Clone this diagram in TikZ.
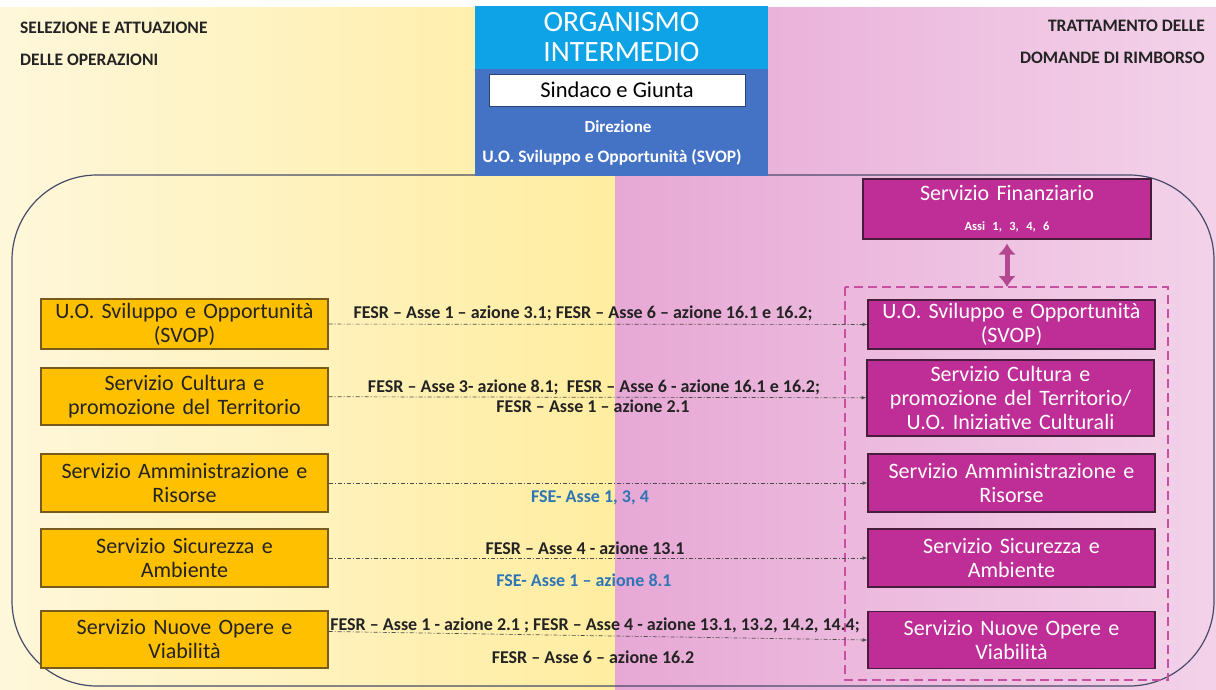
\documentclass[tikz,border=0pt]{standalone}
\usepackage{fontspec}
\setmainfont{Carlito}
\usetikzlibrary{%
  arrows,%
  arrows.meta,%
  calc,%
  positioning%
}
\tikzset{>=latex}
\definecolor{cream}{RGB}{254,247,218}
\definecolor{sunny}{RGB}{255,237,160}
\definecolor{rose}{RGB}{231,168,213}
\definecolor{blush}{RGB}{243,210,233}
\definecolor{orgcyan}{RGB}{14,163,230}
\definecolor{orgblue}{RGB}{68,114,196}
\definecolor{amber}{RGB}{255,192,0}
\definecolor{amberline}{RGB}{120,90,30}
\definecolor{plum}{RGB}{190,46,150}
\definecolor{plumline}{RGB}{70,30,60}
\definecolor{plumdash}{RGB}{200,80,160}
\definecolor{ink}{RGB}{35,35,35}
\definecolor{fseblue}{RGB}{46,117,182}
\definecolor{framegray}{RGB}{70,75,105}
\tikzset{
  head/.style={font=\bfseries\fontsize{17.5}{20}\selectfont,text=ink,inner sep=0pt},
  leftbox/.style={draw=amberline,line width=1.2pt,fill=amber,text=ink,
    minimum width=287,text width=284,align=center,inner sep=1pt,
    font=\fontsize{22}{24}\selectfont},
  rightbox/.style={draw=plumline,line width=1.2pt,fill=plum,text=white,
    minimum width=287,text width=284,align=center,inner sep=1pt,
    font=\fontsize{22}{24}\selectfont},
  link/.style={->,gray!60!black,line width=0.7pt,
    dash pattern=on 4pt off 2pt on 1pt off 2pt},
  lbl/.style={font=\bfseries\fontsize{18}{20}\selectfont,text=ink,inner sep=0pt},
  fse/.style={lbl,text=fseblue}
}
\begin{document}
\begin{tikzpicture}[x=1pt,y=-1pt]
  \useasboundingbox (0,0) rectangle (1216,689);
  \clip (0,0) rectangle (1216,689);
  \shade[left color=cream,right color=sunny] (0,7) rectangle (615,689);
  \shade[left color=rose,right color=blush] (615,7) rectangle (1216,689);
  \draw[framegray,line width=1.2pt,rounded corners=85] (12,175) rectangle (1214,686);

  \node[head,anchor=west] (selez) at (20,28) {SELEZIONE E ATTUAZIONE};
  \node[head,anchor=west] (operaz) at (20,60) {DELLE OPERAZIONI};
  \node[head,anchor=east] (tratt) at (1205,26) {TRATTAMENTO DELLE};
  \node[head,anchor=east] (domande) at (1205,58) {DOMANDE DI RIMBORSO};

  \node[fill=orgcyan,minimum width=293,minimum height=63,inner sep=0pt,text=white,
    align=center,font=\fontsize{29.5}{30}\selectfont] (org) at (621.5,37.5) {ORGANISMO\\INTERMEDIO};
  \node[fill=orgblue,minimum width=293,minimum height=107,inner sep=0pt,below=0pt of org] (orgb) {};
  \node[fill=white,draw=orgblue!60!black,minimum width=256,minimum height=32,inner sep=0pt,
    font=\fontsize{22.5}{24}\selectfont] (giunta) at (617,90) {Sindaco e Giunta};
  \node[text=white,font=\bfseries\fontsize{17}{19}\selectfont] (direz) at (618,127) {Direzione};
  \node[text=white,font=\bfseries\fontsize{17.5}{19}\selectfont] (svopdir) at (612,157) {U.O. Sviluppo e Opportunità (SVOP)};

  \node[leftbox,minimum height=50] (svopL) at (184.5,324) {U.O. Sviluppo e Opportunità\\(SVOP)};
  \node[leftbox,minimum height=57] (cultL) at (184.5,396.5) {Servizio Cultura e\\promozione del Territorio};
  \node[leftbox,minimum height=58] (ammL) at (184.5,483) {Servizio Amministrazione e\\Risorse};
  \node[leftbox,minimum height=58] (sicL) at (184.5,558) {Servizio Sicurezza e\\Ambiente};
  \node[leftbox,minimum height=57] (nuoveL) at (184.5,639.5) {Servizio Nuove Opere e\\Viabilità};

  \node[rightbox,minimum height=60,minimum width=288] (fin) at (1007,209)
    {Servizio Finanziario\\[6pt]{\bfseries\fontsize{12.5}{14}\selectfont Assi 1, 3, 4, 6}};
  \draw[plumdash,line width=1.3pt,dash pattern=on 9pt off 5pt] (845,287) rectangle (1168,680);
  \coordinate (grouptop) at (1007,287);
  \node[rightbox,minimum height=49] (svopR) at (1011.5,324.5) {U.O. Sviluppo e Opportunità\\(SVOP)};
  \node[rightbox,minimum height=76] (cultR) at (1010.5,398) {Servizio Cultura e\\promozione del Territorio/\\U.O. Iniziative Culturali};
  \node[rightbox,minimum height=58] (ammR) at (1011.5,483) {Servizio Amministrazione e\\Risorse};
  \node[rightbox,minimum height=58] (sicR) at (1011.5,558) {Servizio Sicurezza e\\Ambiente};
  \node[rightbox,minimum height=57] (nuoveR) at (1011.5,640) {Servizio Nuove Opere e\\Viabilità};

  \draw[{Latex[length=11pt,width=18pt]}-{Latex[length=11pt,width=18pt]},plumdash!90!black,
    line width=5pt,shorten <=4pt] (fin.south) -- (grouptop);

  \draw[link] (svopL) -- (svopR);
  \draw[link] (cultL) -- (cultR);
  \draw[link] (ammL) -- (ammR);
  \draw[link] (sicL) -- (sicR);
  \draw[link] ($(nuoveL.east)+(0,-8)$) -- (nuoveR.west);

  \node[lbl] (l1) at (583,313) {FESR – Asse 1 – azione 3.1; FESR – Asse 6 – azione 16.1 e 16.2;};
  \node[lbl] (l2a) at (594,387) {FESR – Asse 3- azione 8.1;\ \ FESR – Asse 6 - azione 16.1 e 16.2;};
  \node[lbl] (l2b) at (593,406) {FESR – Asse 1 – azione 2.1};
  \node[fse] (l3) at (590,498) {FSE- Asse 1, 3, 4};
  \node[lbl] (l4a) at (585,548) {FESR – Asse 4 - azione 13.1};
  \node[fse] (l4b) at (584,580) {FSE- Asse 1 – azione 8.1};
  \node[lbl] (l5a) at (595,625) {FESR – Asse 1 - azione 2.1 ; FESR – Asse 4 - azione 13.1, 13.2, 14.2, 14.4;};
  \node[lbl] (l5b) at (593,657) {FESR – Asse 6 – azione 16.2};
\end{tikzpicture}
\end{document}
